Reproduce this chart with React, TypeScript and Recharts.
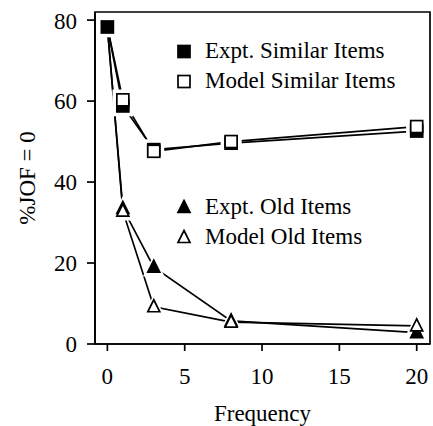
import React, { useLayoutEffect } from 'react';
import { Line, LineChart, ReferenceArea, XAxis, YAxis } from 'recharts';

// frequency of presentation
const freq = [0, 1, 3, 8, 20];
const exptSimilar = [78.3, 58.8, 48, 49.6, 52.6];
const modelSimilar = [78.3, 60.3, 47.6, 50, 53.7];
const exptOld = [78.3, 33.5, 19, 5.7, 2.8];
const modelOld = [78.3, 32.8, 9.2, 5.4, 4.5];

const xTicks = [0, 5, 10, 15, 20];
const yTicks = [0, 20, 40, 60, 80];

const data = freq.map((f, i) => ({
    f,
    es: exptSimilar[i],
    ms: modelSimilar[i],
    eo: exptOld[i],
    mo: modelOld[i],
}));

const FONT = '"Liberation Serif", "Times New Roman", serif';
const W = 425;
const H = 418;
const X_DOMAIN: [number, number] = [-0.8, 20.86];
const Y_DOMAIN: [number, number] = [0, 82];

type Kind = 'fillSq' | 'openSq' | 'fillTri' | 'openTri';

function Marker({ kind, cx, cy, halo, s = 12 }: { kind: Kind; cx: number; cy: number; halo?: boolean; s?: number }) {
    const pad = halo ? 3.5 : 0;
    const sq = kind === 'fillSq' || kind === 'openSq';
    const fill = halo ? '#fff' : kind.startsWith('fill') ? '#000' : '#fff';
    const stroke = halo ? '#fff' : '#000';
    const h = s / 2 + pad;
    if (sq) {
        return <rect x={cx - h} y={cy - h} width={h * 2} height={h * 2} fill={fill} stroke={stroke} strokeWidth={1.7} />;
    }
    const pts = `${cx},${cy - h - 1} ${cx + h},${cy + h - 1} ${cx - h},${cy + h - 1}`;
    return <polygon points={pts} fill={fill} stroke={stroke} strokeWidth={1.7} strokeLinejoin="miter" />;
}

function dotFor(kind: Kind, halo: boolean, skipFirst: boolean) {
    return (props: any) => {
        const { cx, cy, index } = props;
        if (skipFirst && index === 0) return <g key={`e-${kind}-${index}`} />;
        return (
            <g key={`${kind}-${halo ? 'h' : 'm'}-${index}`}>
                <Marker kind={kind} cx={cx} cy={cy} halo={halo} />
            </g>
        );
    };
}

const series: { key: string; kind: Kind; skipFirst: boolean }[] = [
    { key: 'es', kind: 'fillSq', skipFirst: false },
    { key: 'ms', kind: 'openSq', skipFirst: true },
    { key: 'eo', kind: 'fillTri', skipFirst: true },
    { key: 'mo', kind: 'openTri', skipFirst: true },
];

function LegendKey({ kind, label, top }: { kind: Kind; label: string; top: number }) {
    return (
        <div
            style={{
                position: 'absolute',
                left: 168,
                top: top - 14,
                height: 28,
                display: 'flex',
                alignItems: 'center',
                fontFamily: FONT,
                fontSize: 23,
                whiteSpace: 'nowrap',
            }}
        >
            <svg width={16} height={16} style={{ marginRight: 13, flex: 'none' }}>
                <Marker kind={kind} cx={8} cy={8.5} s={12} />
            </svg>
            <span>{label}</span>
        </div>
    );
}

export default function App() {
    // drop the body margin and pad instead, so the page box spans the full 433px
    useLayoutEffect(() => {
        document.body.style.margin = '0';
    }, []);

    return (
        <div style={{ width: W, height: H, padding: 8 }}>
            <div style={{ position: 'relative', width: W, height: H }}>
                <LineChart width={W} height={H} data={data} margin={{ top: 4, right: 3, bottom: 0, left: 0 }}>
                    <XAxis
                        dataKey="f"
                        type="number"
                        domain={X_DOMAIN}
                        ticks={xTicks}
                        allowDataOverflow
                        height={82}
                        tickSize={7}
                        tickMargin={17}
                        axisLine={{ stroke: '#000', strokeWidth: 1.7 }}
                        tickLine={{ stroke: '#000', strokeWidth: 1.7 }}
                        tick={{ fill: '#000', fontSize: 23, fontFamily: FONT }}
                        label={{ value: 'Frequency', position: 'insideBottom', offset: 5, fill: '#000', fontSize: 23, fontFamily: FONT }}
                    />
                    <YAxis
                        type="number"
                        domain={Y_DOMAIN}
                        ticks={yTicks}
                        allowDataOverflow
                        width={87}
                        tickSize={8}
                        tickMargin={10}
                        axisLine={{ stroke: '#000', strokeWidth: 1.7 }}
                        tickLine={{ stroke: '#000', strokeWidth: 1.7 }}
                        tick={{ fill: '#000', fontSize: 23, fontFamily: FONT }}
                        label={{
                            value: '%JOF = 0',
                            angle: -90,
                            position: 'insideLeft',
                            offset: 19,
                            fill: '#000',
                            fontSize: 23,
                            fontFamily: FONT,
                            style: { textAnchor: 'middle' },
                        }}
                    />
                    <ReferenceArea
                        x1={X_DOMAIN[0]}
                        x2={X_DOMAIN[1]}
                        y1={Y_DOMAIN[0]}
                        y2={Y_DOMAIN[1]}
                        fill="none"
                        stroke="#000"
                        strokeWidth={1.7}
                        ifOverflow="visible"
                    />
                    {series.map((s) => (
                        <Line
                            key={`line-${s.key}`}
                            dataKey={s.key}
                            type="linear"
                            stroke="#000"
                            strokeWidth={1.7}
                            dot={false}
                            activeDot={false}
                            isAnimationActive={false}
                        />
                    ))}
                    {series.map((s) => (
                        <Line
                            key={`halo-${s.key}`}
                            dataKey={s.key}
                            stroke="none"
                            dot={dotFor(s.kind, true, s.skipFirst)}
                            activeDot={false}
                            isAnimationActive={false}
                        />
                    ))}
                    {series.map((s) => (
                        <Line
                            key={`mark-${s.key}`}
                            dataKey={s.key}
                            stroke="none"
                            dot={dotFor(s.kind, false, s.skipFirst)}
                            activeDot={false}
                            isAnimationActive={false}
                        />
                    ))}
                </LineChart>
                <LegendKey kind="fillSq" label="Expt. Similar Items" top={43} />
                <LegendKey kind="openSq" label="Model Similar Items" top={73} />
                <LegendKey kind="fillTri" label="Expt. Old Items" top={199} />
                <LegendKey kind="openTri" label="Model Old Items" top={229} />
            </div>
        </div>
    );
}
